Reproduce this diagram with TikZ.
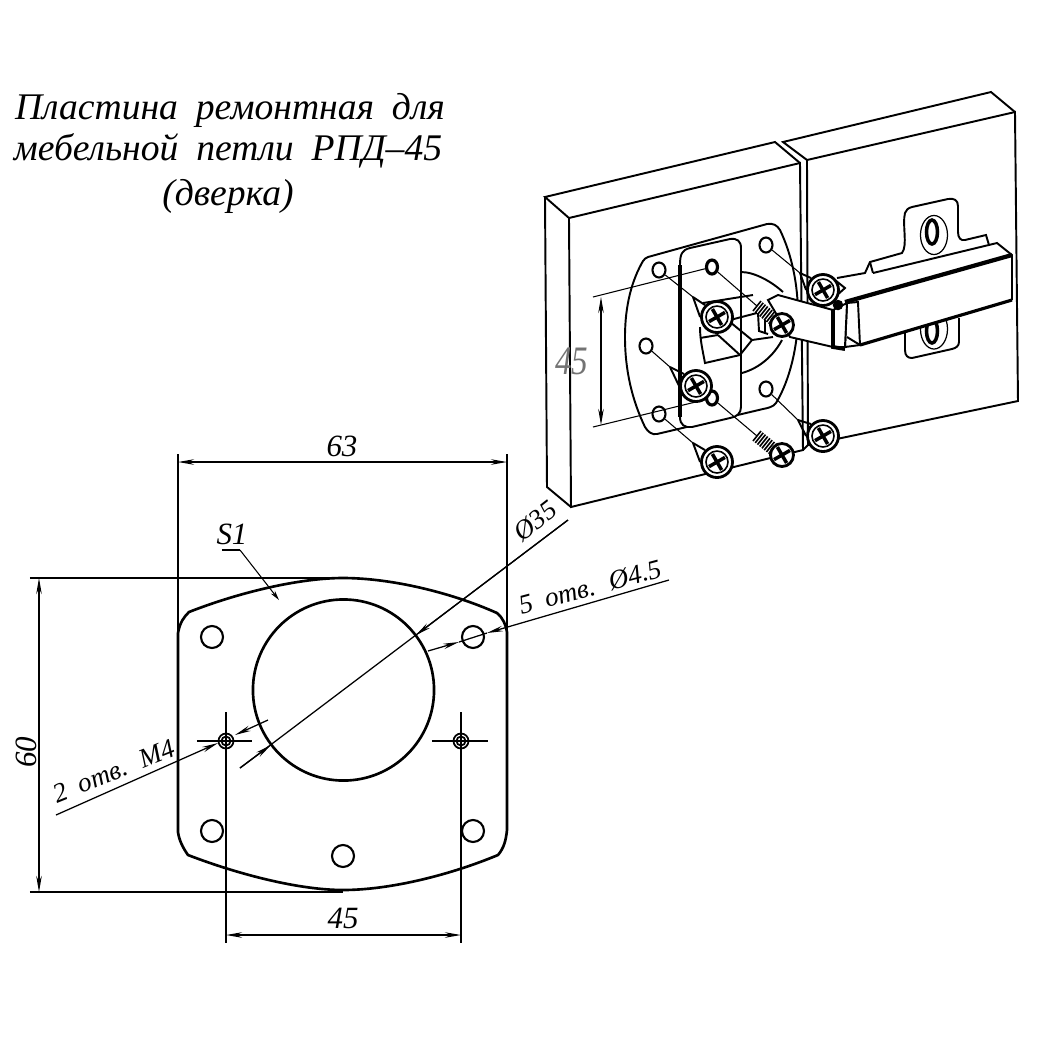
\documentclass[tikz,border=0pt]{standalone}
\usepackage{fontspec}
\setmainfont{Liberation Serif}
\newfontfamily\cadfont[ItalicFont=Liberation Serif Italic,WordSpace=1.9]{Liberation Serif}
\newcommand{\titlefont}{\cadfont\itshape\fontsize{10.7}{13}\selectfont}
\newcommand{\dimfont}{\cadfont\itshape\fontsize{8.8}{10}\selectfont}
\newcommand{\notefont}{\cadfont\itshape\fontsize{7.7}{10}\selectfont}
\usetikzlibrary{calc,arrows.meta,shapes.misc,shapes.geometric}

\begin{document}
\begin{tikzpicture}[x=0.01cm,y=-0.01cm]
\tikzstyle{outline} = [draw, line width=0.75pt]
\tikzstyle{edge} = [draw, line width=0.55pt]
\tikzstyle{dimline} = [draw, line width=0.36pt]
\tikzstyle{tipped} = [dimline, >={Stealth[length=1.6mm,width=0.55mm]}]
\tikzstyle{leader} = [draw, line width=0.3pt]
\tikzstyle{hole} = [draw, circle, line width=0.6pt, minimum size=2.2mm, inner sep=0, fill=white]
\tikzstyle{isohole} = [draw, ellipse, line width=0.6pt, minimum width=1.3mm, minimum height=1.5mm, inner sep=0, fill=white]
\tikzstyle{blindhole} = [draw, ellipse, line width=0.9pt, minimum width=1.1mm, minimum height=1.4mm, inner sep=0, fill=white]
\tikzstyle{tapped} = [draw, circle, line width=0.5pt, minimum size=1.5mm, inner sep=0]
\tikzstyle{bighead} = [draw, circle, line width=0.8pt, minimum size=3.1mm, inner sep=0, fill=white]
\tikzstyle{bigring} = [draw, circle, line width=0.45pt, minimum size=2.2mm, inner sep=0]
\tikzstyle{smallhead} = [draw, circle, line width=0.8pt, minimum size=2.3mm, inner sep=0, fill=white]
\tikzstyle{slotcross} = [draw, cross out, line width=1pt, minimum size=0.95mm, inner sep=0, rotate=-15]
\tikzstyle{thread} = [draw, line width=0.45pt]
\useasboundingbox (0,0) rectangle (1050,1050);

% title
\node[inner sep=0, font=\titlefont] (title_1) at (230,110) {Пластина ремонтная для};
\node[inner sep=0, font=\titlefont] (title_2) at (228,151) {мебельной петли РПД–45};
\node[inner sep=0, font=\titlefont] (title_3) at (228,196) {(дверка)};

% plate, front view
\draw[outline] (178,633) .. controls (180,622) and (184,617) .. (189,612)
  .. controls (240,592) and (300,578) .. (343,578)
  .. controls (390,578) and (450,592) .. (497,613)
  .. controls (503,618) and (506,625) .. (507,632) -- (507,830)
  .. controls (506,840) and (504,848) .. (498,855)
  .. controls (450,875) and (390,890) .. (343,890)
  .. controls (300,890) and (240,875) .. (188,855)
  .. controls (183,848) and (179,840) .. (178,832) -- cycle;
\node[draw, circle, line width=0.75pt, minimum size=18.1mm, inner sep=0] (bore) at (343.5,690) {};
\node[hole] (h_tl) at (212,637) {};
\node[hole] (h_tr) at (473,637) {};
\node[hole] (h_bl) at (212,831) {};
\node[hole] (h_br) at (473,831) {};
\node[hole] (h_b) at (343,856) {};
\node[tapped] (m_l) at (226,741) {};
\node[tapped, minimum size=0.9mm] (m_l_in) at (226,741) {};
\node[tapped] (m_r) at (461,741) {};
\node[tapped, minimum size=0.9mm] (m_r_in) at (461,741) {};

% dimensions, front view
\coordinate (w_l) at (178,454);
\coordinate (w_r) at (507,454);
\coordinate (w_la) at (178,462);
\coordinate (w_ra) at (507,462);
\coordinate (w_le) at (178,633);
\coordinate (w_re) at (507,632);
\draw[dimline] (w_l) -- (w_le);
\draw[dimline] (w_r) -- (w_re);
\draw[tipped, <->] (w_la) -- (w_ra);
\node[inner sep=0, font=\dimfont] (dim_63) at (342,446) {63};

\coordinate (ht_e) at (30,578);
\coordinate (ht_c) at (343,578);
\coordinate (hb_e) at (30,892);
\coordinate (hb_c) at (343,892);
\coordinate (ht_a) at (39,578);
\coordinate (hb_a) at (39,892);
\draw[dimline] (ht_e) -- (ht_c);
\draw[dimline] (hb_e) -- (hb_c);
\draw[tipped, <->] (ht_a) -- (hb_a);
\node[inner sep=0, font=\dimfont, rotate=90] (dim_60) at (26,752) {60};

\coordinate (ml_top) at (226,712);
\coordinate (ml_bot) at (226,943);
\coordinate (mr_top) at (461,712);
\coordinate (mr_bot) at (461,943);
\coordinate (ml_a) at (226,935);
\coordinate (mr_a) at (461,935);
\coordinate (ml_w) at (197,741);
\coordinate (ml_e) at (252,741);
\coordinate (mr_w) at (432,741);
\coordinate (mr_e) at (488,741);
\draw[dimline] (ml_top) -- (ml_bot);
\draw[dimline] (mr_top) -- (mr_bot);
\draw[dimline] (ml_w) -- (ml_e);
\draw[dimline] (mr_w) -- (mr_e);
\draw[tipped, <->] (ml_a) -- (mr_a);
\node[inner sep=0, font=\dimfont] (dim_45) at (343,918) {45};

\coordinate (s1_a) at (222,550);
\coordinate (s1_b) at (240,550);
\coordinate (s1_c) at (279,600);
\draw[leader] (s1_a) -- (s1_b);
\draw[leader, -{Stealth[length=1mm,width=0.5mm]}] (s1_b) -- (s1_c);
\node[inner sep=0, font=\dimfont] (lab_s1) at (232,534) {S1};

\coordinate (m4_a) at (56,815);
\coordinate (m4_b) at (218,743);
\coordinate (m4_c) at (268,720);
\coordinate (m4_d) at (235,735);
\draw[tipped, ->] (m4_a) -- (m4_b);
\draw[tipped, ->] (m4_c) -- (m4_d);
\node[inner sep=0, font=\notefont, rotate=22] (lab_m4) at (114,771) {2 отв. М4};

\coordinate (d35_a) at (568,520);
\coordinate (d35_b) at (240,768);
\coordinate (d35_c) at (271,745);
\coordinate (d35_d) at (415.6,635.4);
\draw[dimline] (d35_a) -- (d35_b);
\draw[tipped, ->] (d35_a) -- (d35_d);
\draw[tipped, ->] (d35_b) -- (d35_c);
\node[inner sep=0, font=\notefont, rotate=38] (lab_d35) at (535,521) {Ø35};

\coordinate (d45_a) at (669,580);
\coordinate (d45_b) at (487,633);
\coordinate (d45_c) at (428,651);
\coordinate (d45_d) at (459,642);
\draw[dimline] (d45_b) -- (d45_d);
\draw[tipped, ->] (d45_a) -- (d45_b);
\draw[tipped, ->] (d45_c) -- (d45_d);
\node[inner sep=0, font=\notefont, rotate=15] (lab_d45) at (590,587) {5 отв. Ø4.5};

% door panels
\draw[edge] (569,218) -- (800,163) -- (803,450) -- (571,507) -- cycle;
\draw[edge] (569,218) -- (545,197) -- (775,142) -- (800,163);
\draw[edge] (545,197) -- (547,487) -- (571,507);
\draw[edge] (807,160) -- (1015,112) -- (1018,401) -- (808,445) -- cycle;
\draw[edge] (807,160) -- (783,142) -- (991,92) -- (1015,112);
\draw[edge] (803,450) -- (808,445);

% repair plate on the door
\draw[edge, fill=white] (648,257) -- (767,224) .. controls (773,223) and (777,225) .. (780,230)
  .. controls (792,255) and (798,285) .. (798,315)
  .. controls (798,345) and (790,380) .. (776,403)
  .. controls (773,407) and (768,408) .. (763,409) -- (657,434)
  .. controls (652,435) and (648,432) .. (645,427)
  .. controls (632,400) and (625,370) .. (625,337)
  .. controls (625,305) and (632,280) .. (643,261) .. controls (644,259) and (646,258) .. (648,257) -- cycle;
\draw[edge, fill=white] (680,265) .. controls (680,254) and (682,250) .. (690,248) -- (730,239)
  .. controls (737,238) and (741,241) .. (741,248) -- (741,407)
  .. controls (741,413) and (737,417) .. (730,418) -- (692,427)
  .. controls (685,428) and (680,425) .. (680,417) -- cycle;
\draw[line width=1.1pt] (680,417) -- (680,265);
\draw[edge] (741,272) .. controls (755,272) and (772,282) .. (783,292);
\draw[edge] (782,340) .. controls (774,355) and (760,368) .. (742,373);
\draw[edge] (700,327) .. controls (700,340) and (703,352) .. (705,363) -- (740,355) -- (752,340) -- (773,337);
\draw[edge] (700,338) -- (718,335);
\draw[edge] (718,335) -- (740,355);
\draw[edge] (730,322) -- (752,340);
\draw[edge] (703,303) -- (753,295);
\draw[edge] (730,320) -- (757,313);

% holes on the door
\node[isohole] (ih_1) at (766,245) {};
\node[isohole] (ih_2) at (659,270) {};
\node[isohole] (ih_3) at (646,346) {};
\node[isohole] (ih_4) at (659,414) {};
\node[isohole] (ih_5) at (766,389) {};
\node[blindhole] (bh_1) at (712,267) {};
\node[blindhole] (bh_2) at (712,398) {};

% dimension on the door
\coordinate (e_t) at (593,297);
\coordinate (e_b) at (593,427);
\coordinate (a_t) at (601,297);
\coordinate (a_b) at (601,425);
\draw[leader] (e_t) -- (bh_1);
\draw[leader] (e_b) -- (bh_2);
\draw[tipped, <->, line width=0.3pt] (a_t) -- (a_b);
\node[inner sep=0, text=black!55, font=\cadfont\itshape\fontsize{11.5}{14}\selectfont] (lab_iso) at (572,361) {\scalebox{0.82}[1]{45}};

% hinge body
\path[edge, fill=white] (837,278) -- (865,273) -- (870,262) -- (902,253)
  .. controls (908,245) and (902,225) .. (905,213) .. controls (906,210) and (908,208) .. (912,207) -- (948,199)
  .. controls (954,198) and (958,200) .. (958,206) -- (958,232) .. controls (958,238) and (961,241) .. (965,240)
  -- (986,235) -- (989,245);
\draw[edge] (870,262) -- (873,273);
\draw[edge, fill=white] (905,330) -- (905,350) .. controls (905,356) and (908,358) .. (912,358) -- (952,349)
  .. controls (956,348) and (959,346) .. (959,342) -- (959,318);
\node[draw, ellipse, line width=0.35pt, minimum width=2.7mm, minimum height=3.9mm, inner sep=0] (slot_t) at (934,235) {};
\node[draw, ellipse, line width=1pt, minimum width=1.1mm, minimum height=2.4mm, inner sep=0] (pin_t) at (932,232) {};
\node[draw, ellipse, line width=0.35pt, minimum width=2.7mm, minimum height=4mm, inner sep=0] (slot_b) at (934,329) {};
\node[draw, ellipse, line width=1pt, minimum width=1.1mm, minimum height=2.4mm, inner sep=0] (pin_b) at (932,331) {};
\fill[white] (837,300) -- (873,273) -- (997,243) -- (1012,255) -- (1012,300) -- (860,345) -- cycle;
\draw[edge] (873,273) -- (997,243) -- (1012,255) -- (1012,300);
\draw[line width=1.2pt] (845,302) -- (1012,255);
\draw[line width=0.9pt] (860,345) -- (1012,300);
\draw[edge, fill=white] (847,303) -- (858,302) -- (860,345) -- (845,347) -- cycle;
\draw[edge] (847,337) -- (860,345);

% hinge arm
\draw[edge, fill=white] (768,300) -- (778,295) -- (833,310) -- (847,303) -- (845,347) -- (833,347) -- (790,337) -- cycle;
\draw[line width=1.1pt] (833,310) -- (833,347) -- (845,349);
\node[draw, circle, fill=black, minimum size=0.9mm, inner sep=0] (pivot) at (838,305) {};
\draw[edge] (835,280) -- (845,288) -- (836,296);

% leader lines with screws
\coordinate (c_1) at (800,273);
\coordinate (c_2) at (693,297);
\coordinate (c_3) at (670,367);
\coordinate (c_4) at (693,443);
\coordinate (c_5) at (798,420);
\foreach \n/\x/\y in {s_1/823/290, s_2/717/317, s_3/696/386, s_4/717/462, s_5/823/436} {
  \node[bighead] (\n) at (\x,\y) {};
}
\draw[leader] (ih_1) -- (c_1); \draw[edge] (c_1) -- (s_1.north west); \draw[edge] (c_1) -- (s_1.west);
\draw[leader] (ih_2) -- (c_2); \draw[edge] (c_2) -- (s_2.north west); \draw[edge] (c_2) -- (s_2.west);
\draw[leader] (ih_3) -- (c_3); \draw[edge] (c_3) -- (s_3.north west); \draw[edge] (c_3) -- (s_3.west);
\draw[leader] (ih_4) -- (c_4); \draw[edge] (c_4) -- (s_4.north west); \draw[edge] (c_4) -- (s_4.west);
\draw[leader] (ih_5) -- (c_5); \draw[edge] (c_5) -- (s_5.north west); \draw[edge] (c_5) -- (s_5.west);
\foreach \n in {s_1, s_2, s_3, s_4, s_5} {
  \node[bigring] (\n_ring) at (\n) {};
  \node[slotcross] (\n_slot) at (\n) {};
}

% small screws with thread
\coordinate (t_1a) at (757,306);
\coordinate (t_1b) at (773,319);
\coordinate (t_2a) at (757,436);
\coordinate (t_2b) at (773,449);
\draw[leader] (bh_1) -- (t_1a);
\draw[leader] (bh_2) -- (t_2a);
\foreach \t in {0,0.14,...,1} {
  \draw[thread] ($(t_1a)!\t!(t_1b)+(4,-5)$) -- ($(t_1a)!\t!(t_1b)+(-4,5)$);
  \draw[thread] ($(t_2a)!\t!(t_2b)+(4,-5)$) -- ($(t_2a)!\t!(t_2b)+(-4,5)$);
}
\draw[edge] (758,313) -- (759,331) -- (768,334);
\draw[edge] (765,320) -- (765,333);
\node[smallhead] (st_1) at (782,325) {};
\node[smallhead] (st_2) at (782,455) {};
\node[slotcross] (st_1_slot) at (st_1) {};
\node[slotcross] (st_2_slot) at (st_2) {};
\end{tikzpicture}
\end{document}
